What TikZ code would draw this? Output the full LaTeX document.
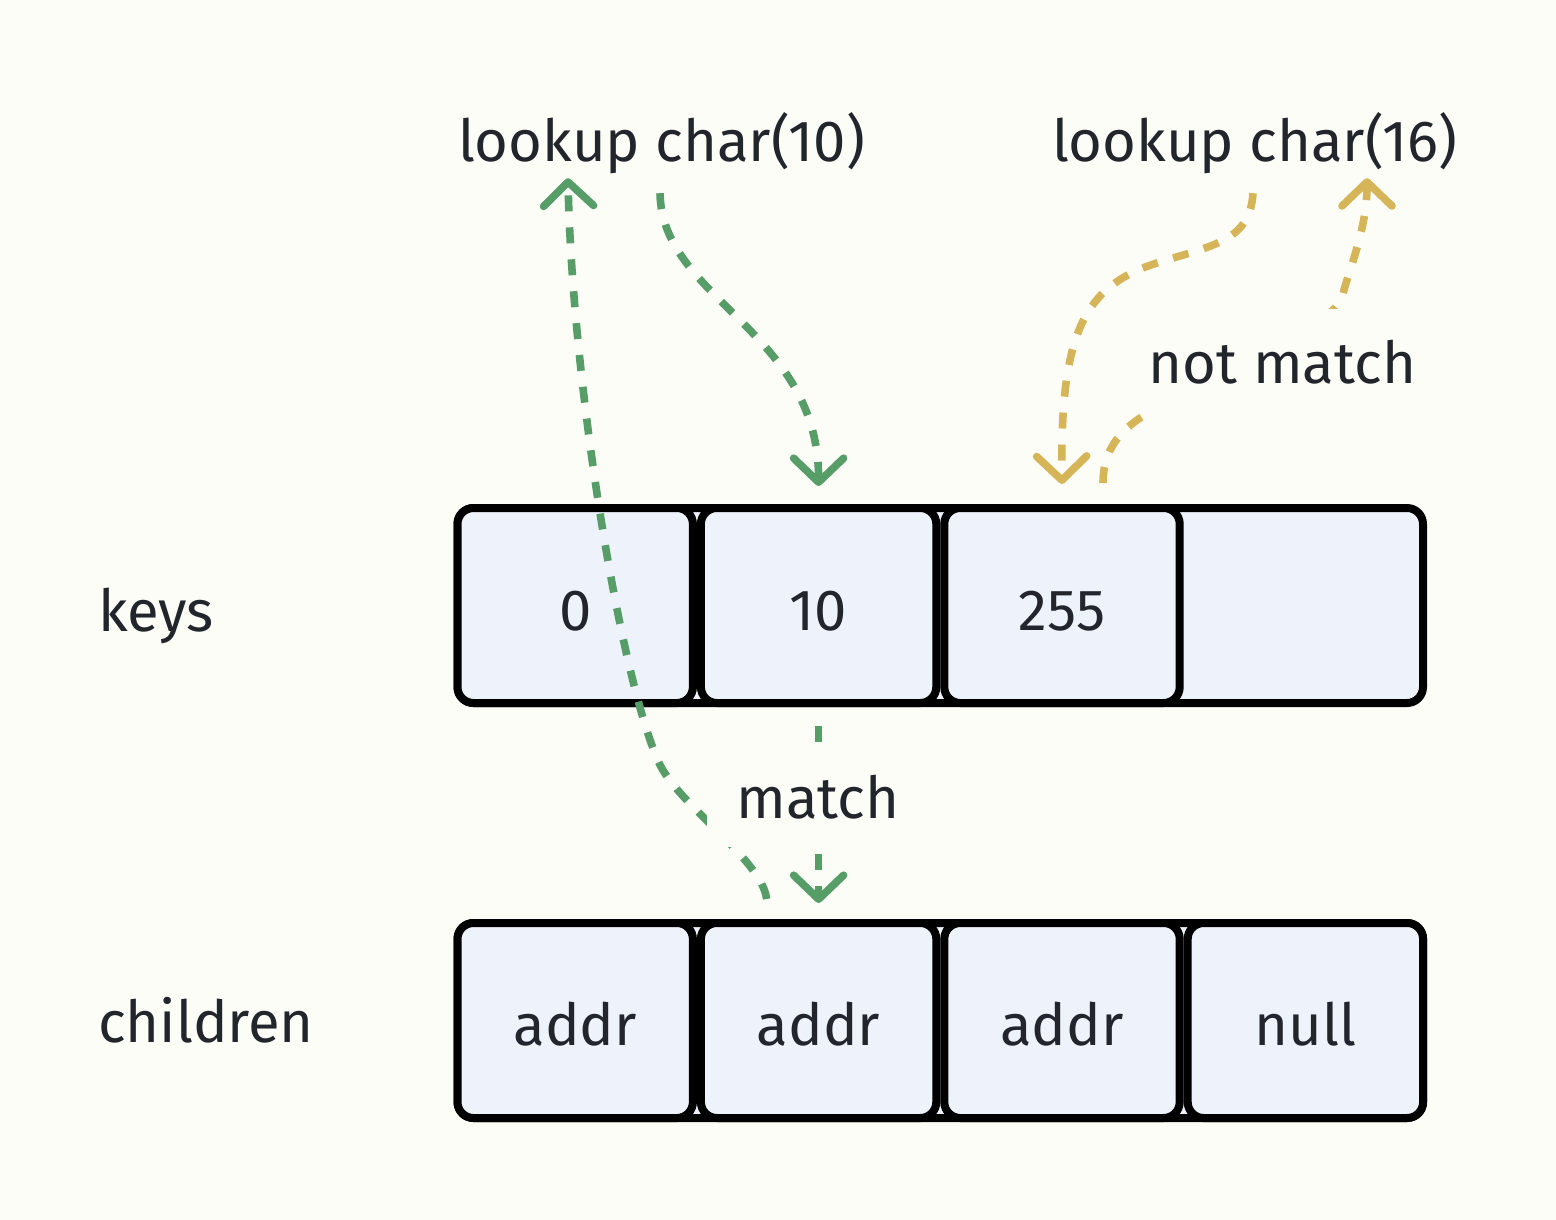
\documentclass[tikz,border=0pt]{standalone}
\usepackage{fontspec}
\setmainfont{Fira Sans}
\usetikzlibrary{arrows.meta,calc}
\definecolor{bg}{RGB}{253,253,248}
\definecolor{cellfill}{RGB}{238,243,251}
\definecolor{ink}{RGB}{34,37,43}
\definecolor{grn}{RGB}{87,157,103}
\definecolor{gld}{RGB}{214,181,88}
\begin{document}
\begin{tikzpicture}[x=1pt,y=-1pt,
  txt/.style={font=\fontsize{58}{60}\selectfont, text=ink},
  cellbox/.style={txt, draw=black, line width=8pt, fill=cellfill, rounded corners=16pt,
    minimum width=235.4pt, minimum height=195pt, inner sep=0pt, text height=49pt, text depth=0pt},
  rowbox/.style={draw=black, line width=8pt, fill=cellfill, rounded corners=16pt,
    minimum width=965.5pt, minimum height=195pt, inner sep=0pt},
  lbl/.style={txt, inner sep=0pt, text depth=0pt, anchor=base west},
  covlbl/.style={txt, fill=bg, inner sep=29pt, text height=45pt, text depth=0pt, anchor=base},
  flow/.style={line width=7.6pt, dash pattern=on 16pt off 16pt,
    -{Straight Barb[length=24pt,width=50pt,round]}},
]
\useasboundingbox[fill=bg] (0,0) rectangle (1556,1220);

% row labels
\node[lbl] (keyslbl) at (98,631) {keys};
\node[lbl] (childlbl) at (98,1042) {children};

% lookup labels
\node[lbl] (lk10) at (458,162) {lookup char(10)};
\node[lbl] (lk16) at (1052,162) {lookup char(16)};

% keys row
\node[rowbox] (krow) at (940.25,605.5) {};
\node[cellbox] (k1) at (575.2,605.5) {0};
\node[cellbox] (k2) at (818.6,605.5) {10};
\node[cellbox] (k3) at (1062.0,605.5) {255};

% children row
\node[rowbox] (crow) at (940.25,1020.5) {};
\node[cellbox] (c1) at (575.2,1020.5) {addr};
\node[cellbox] (c2) at (818.6,1020.5) {addr};
\node[cellbox] (c3) at (1062.0,1020.5) {addr};
\node[cellbox] (c4) at (1305.4,1020.5) {null};

% green flows
\draw[flow, grn] ($(lk10.south west)+(202,31)$) .. controls (662,300) and (818.6,330) .. ($(k2.north)+(0,-18)$);
\draw[flow, grn] ($(k2.south)+(0,19)$) -- ($(c2.north)+(0,-16)$);
\draw[flow, grn] ($(c2.north)+(-52,-20)$) .. controls (762,860) and (682,808) .. (660,765)
  .. controls (620,680) and (572,380) .. ($(lk10.south west)+(110,16)$);

% gold flows
\draw[flow, gld] ($(lk16.south west)+(201,31)$) .. controls (1250,240) and (1215,245) .. (1160,262)
  .. controls (1085,285) and (1060,330) .. ($(k3.north)+(0,-20)$);
\draw[flow, gld] ($(k3.north)+(41,-21)$) .. controls (1103,455) and (1115,435) .. (1140,418)
  .. controls (1230,357) and (1335,330) .. (1343,294)
  .. controls (1348,272) and (1367,230) .. ($(lk16.south west)+(315,16)$);

% flow labels
\node[covlbl] (matchlbl) at (818,818) {match};
\node[covlbl] (nomatchlbl) at (1282.5,383) {not match};
\end{tikzpicture}
\end{document}
